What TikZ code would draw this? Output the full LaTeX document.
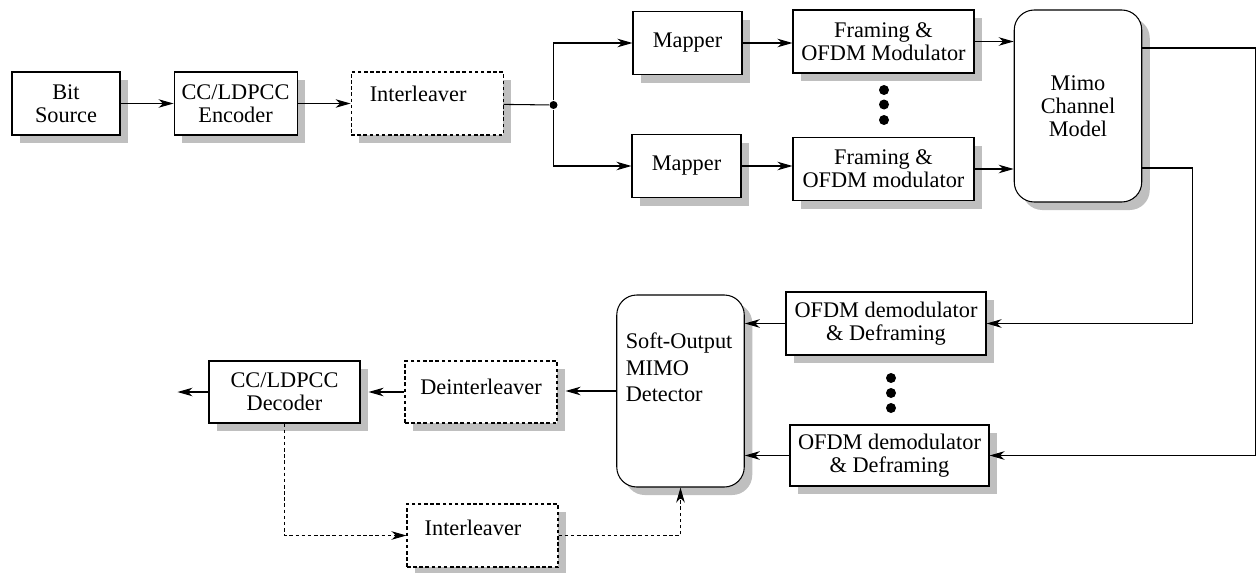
\documentclass[tikz,border=0pt]{standalone}
\usepackage{fontspec}
\setmainfont{Liberation Serif}
\usetikzlibrary{positioning, shadows, arrows.meta}

\begin{document}
\begin{tikzpicture}
% style
	[>={Stealth[length=3mm,width=1.7mm,inset=0.9mm]},
	font=\fontsize{12.7}{13}\selectfont,
	semithick,
	box/.style={rectangle, draw=black, fill=white, inner sep=0pt, minimum height=1.26cm, align=center,
		drop shadow={shadow xshift=1.6mm, shadow yshift=-1.6mm, fill=black!25, opacity=1}},
	dbox/.style={box, dash pattern=on 2pt off 1.5pt},
	rbox/.style={box, rounded corners=4mm, minimum width=2.55cm, minimum height=3.84cm},
	fb/.style={dash pattern=on 2pt off 1.5pt},
	dot/.style={circle, fill=black, inner sep=0pt, minimum size=2mm},
	joint/.style={circle, fill=black, inner sep=0pt, minimum size=1.6mm}]

	\useasboundingbox (0,0) rectangle (25.14,-11.46);

	% transmitter
	\node [box, minimum width=2.16cm] (src) at (1.32,-2.07) {Bit\\Source};
	\node [box, minimum width=2.46cm, right=1.06cm of src] (enc) {CC/LDPCC\\Encoder};
	\node [dbox, minimum width=3.04cm, right=1.06cm of enc, label={[xshift=-1.8mm, yshift=1.9mm]center:Interleaver}] (intl) {};
	\node [joint] (jn) at (11.07,-2.1) {};
	\node [box, minimum width=2.18cm] (map1) at (13.75,-0.86) {Mapper};
	\node [box, minimum width=2.18cm] (map2) at (13.73,-3.32) {Mapper};
	\node [box, minimum width=3.62cm] (frm1) at (17.67,-0.83) {Framing \&\\OFDM Modulator};
	\node [box, minimum width=3.62cm] (frm2) at (17.67,-3.38) {Framing \&\\OFDM modulator};
	\node [rbox] (mimo) at (21.56,-2.12) {Mimo\\Channel\\Model};
	\foreach \y [count=\k] in {-1.8,-2.09,-2.4}
		\node [dot] (tdot\k) at (17.68,\y) {};

	% receiver
	\node [box, minimum width=4cm] (dem1) at (17.72,-6.47) {OFDM demodulator\\\& Deframing};
	\node [box, minimum width=3.98cm, minimum height=1.22cm] (dem2) at (17.79,-9.11) {OFDM demodulator\\\& Deframing};
	\foreach \y [count=\k] in {-7.56,-7.86,-8.16}
		\node [dot] (rdot\k) at (17.82,\y) {};
	\node [rbox, label={[anchor=north west, align=left, inner sep=0pt, xshift=1.8mm, yshift=-7.6mm]north west:Soft-Output\\[2pt]MIMO\\[2pt]Detector}] (det) at (13.61,-7.82) {};
	\node [dbox, minimum width=3.04cm, minimum height=1.24cm, label={[yshift=1mm]center:Deinterleaver}] (dint) at (9.62,-7.84) {};
	\node [box, minimum width=3.02cm, minimum height=1.24cm] (dec) at (5.69,-7.84) {CC/LDPCC\\Decoder};
	\node [dbox, minimum width=3.02cm, label={[xshift=-1.9mm, yshift=1.5mm]center:Interleaver}] (intl2) at (9.65,-10.71) {};
	\coordinate [left=0.62cm of dec] (sink);

	% links
	\path [->] (src) edge (enc)
	           (enc) edge (intl)
	           (map1.east) edge (map1.east -| frm1.west)
	           (map2.east) edge (map2.east -| frm2.west)
	           (frm1.east) edge (frm1.east -| mimo.west)
	           (frm2.east) edge (frm2.east -| mimo.west)
	           (dem1.west) edge (dem1.west -| det.east)
	           (dem2.west) edge (dem2.west -| det.east)
	           (det.west) edge [shorten >=1.6mm] (det.west -| dint.east)
	           (dint) edge [shorten >=1.6mm] (dec)
	           (dec) edge (sink);
	\draw (intl) -- (jn);
	\draw [->] (jn) |- (map1);
	\draw [->] (jn) |- (map2);
	\draw [->] ([yshift=11.6mm]mimo.east) -- ++(2.26,0) |- (dem2);
	\draw [->] ([yshift=-12.4mm]mimo.east) -- ++(1,0) |- (dem1);

	% feedback
	\draw [->, fb] (dec) |- (intl2);
	\draw [->, fb] (intl2) -| (det);
\end{tikzpicture}
\end{document}
